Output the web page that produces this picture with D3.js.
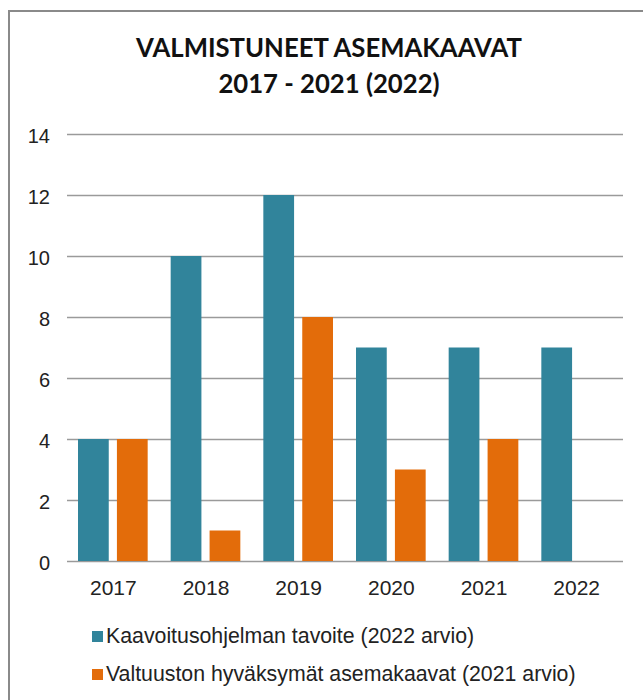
<!DOCTYPE html>
<html>
<head>
<meta charset="utf-8">
<script src="https://cdn.jsdelivr.net/npm/d3@7"></script>
<style>
  body { margin: 0; background: #fff; }
  svg { display: block; }
</style>
</head>
<body>
<script>
var years = ['2017', '2018', '2019', '2020', '2021', '2022'];
var tavoite = [4, 10, 12, 7, 7, 7];
var valtuusto = [4, 1, 8, 3, 4, null];
var seriesNames = ['Kaavoitusohjelman tavoite (2022 arvio)', 'Valtuuston hyväksymät asemakaavat (2021 arvio)'];
var seriesColors = ['#31849b', '#e36c0a'];
var yTicks = [0, 2, 4, 6, 8, 10, 12, 14];
var titleLines = ['VALMISTUNEET ASEMAKAAVAT', '2017  - 2021  (2022)'];

var width = 643, height = 700;
var svg = d3.select('body').append('svg')
    .attr('width', width)
    .attr('height', height);

// outer frame
svg.append('rect')
    .attr('x', 9).attr('y', 11)
    .attr('width', 660).attr('height', 720)
    .attr('fill', '#fff')
    .attr('stroke', '#8a8a8a')
    .attr('stroke-width', 2);

svg.selectAll('.title')
    .data(titleLines)
    .enter().append('text')
    .attr('class', 'title')
    .attr('x', 329)
    .attr('y', function (d, i) { return i ? 93 : 56.5; })
    .attr('text-anchor', 'middle')
    .style('font-family', 'Lato, sans-serif')
    .style('font-weight', 'bold')
    .style('font-size', '25.7px')
    .attr('fill', '#111')
    .text(function (d) { return d; });

var x = d3.scaleBand().domain(years).range([67, 623]);
var y = d3.scaleLinear().domain([0, 14]).range([561, 134]);

var yAxis = svg.append('g')
    .attr('transform', 'translate(67,0)')
    .call(d3.axisLeft(y).tickValues(yTicks).tickSize(-556).tickPadding(17).tickFormat(d3.format('d')));
yAxis.select('.domain').remove();
yAxis.selectAll('line').attr('stroke', '#9a9a9a').attr('stroke-width', 1.6);
yAxis.selectAll('text')
    .attr('fill', '#222')
    .attr('dy', '0.4em')
    .style('font-family', '"Liberation Sans", Arial, sans-serif')
    .style('font-size', '20px');

var xAxis = svg.append('g')
    .attr('transform', 'translate(0,561)')
    .call(d3.axisBottom(x).tickSize(0).tickPadding(0));
xAxis.select('.domain').remove();
xAxis.selectAll('text')
    .attr('fill', '#222')
    .attr('dy', 0)
    .attr('y', 34)
    .style('font-family', '"Liberation Sans", Arial, sans-serif')
    .style('font-size', '21px');

var inner = d3.scaleBand().domain([0, 1]).range([11, x.bandwidth() - 12]).paddingInner(0.21);

var rows = years.map(function (yr, i) {
    return { year: yr, values: [tavoite[i], valtuusto[i]] };
});

var groups = svg.selectAll('.year')
    .data(rows)
    .enter().append('g')
    .attr('class', 'year')
    .attr('transform', function (d) { return 'translate(' + x(d.year) + ',0)'; });

groups.selectAll('rect')
    .data(function (d) {
        return d.values.map(function (v, s) { return { s: s, v: v }; })
            .filter(function (e) { return e.v != null; });
    })
    .enter().append('rect')
    .attr('x', function (d) { return inner(d.s); })
    .attr('width', inner.bandwidth())
    .attr('y', function (d) { return y(d.v); })
    .attr('height', function (d) { return y(0) - y(d.v); })
    .attr('fill', function (d) { return seriesColors[d.s]; });

var legend = svg.selectAll('.legend')
    .data(seriesNames)
    .enter().append('g')
    .attr('class', 'legend')
    .attr('transform', function (d, i) { return 'translate(92,' + (643 + i * 38) + ')'; });

legend.append('rect')
    .attr('x', 0).attr('y', -12)
    .attr('width', 11).attr('height', 11)
    .attr('fill', function (d, i) { return seriesColors[i]; });

legend.append('text')
    .attr('x', 14).attr('y', 0)
    .attr('fill', '#222')
    .style('font-family', '"Liberation Sans", Arial, sans-serif')
    .style('font-size', '21.3px')
    .text(function (d) { return d; });
</script>
</body>
</html>
